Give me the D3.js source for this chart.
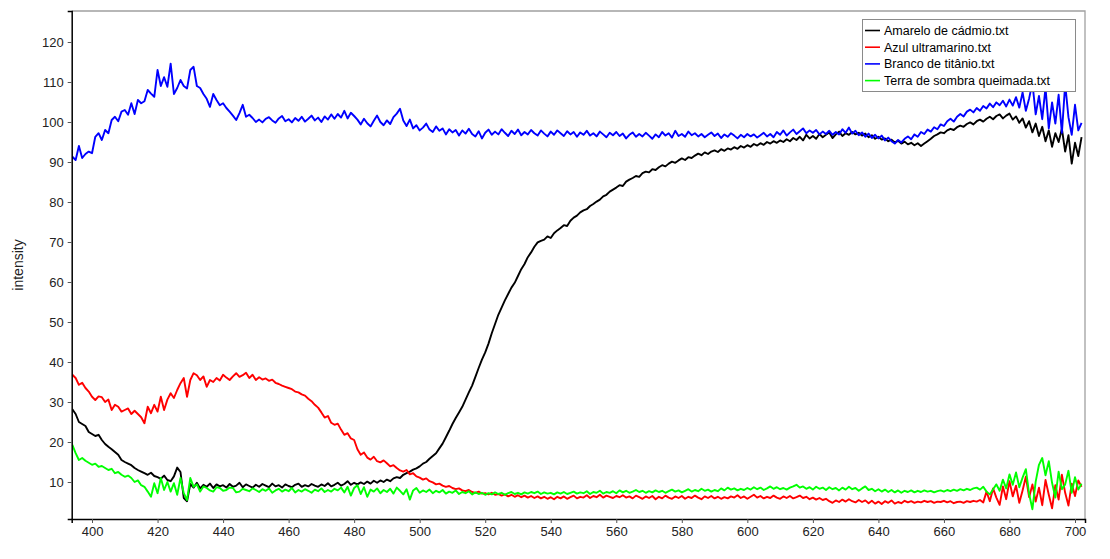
<!DOCTYPE html>
<html>
<head>
<meta charset="utf-8">
<script src="https://cdn.jsdelivr.net/npm/d3@7"></script>
<style>
  html, body { margin: 0; padding: 0; background: #fff; }
  svg { display: block; font-family: "Liberation Sans", Arial, sans-serif; }
</style>
</head>
<body>
<svg id="chart" width="1110" height="559"></svg>
<script>
// Spectra sampled every 1 nm starting at 394 nm
const wavelengthStart = 394;
const wavelengthStep = 1;

const seriesNames = ["Amarelo de cádmio.txt", "Azul ultramarino.txt", "Branco de titânio.txt", "Terra de sombra queimada.txt"];
const seriesColors = ["#000000", "#ff0000", "#0000ff", "#00ff00"];

const xTicks = [400, 420, 440, 460, 480, 500, 520, 540, 560, 580, 600, 620, 640, 660, 680, 700];
const yTicks = [10, 20, 30, 40, 50, 60, 70, 80, 90, 100, 110, 120];

const amarelo = [
  28.2, 27.0, 25.0, 24.5, 24.0, 22.5, 22.0, 21.5, 21.8, 20.5,
  19.5, 18.8, 18.2, 17.5, 16.8, 15.5, 15.0, 14.6, 14.2, 13.5,
  13.0, 12.6, 12.2, 11.8, 12.3, 11.5, 11.2, 10.8, 11.6, 10.5,
  10.2, 11.4, 13.6, 12.5, 6.0, 5.2, 9.5, 8.6, 9.8, 8.4,
  9.3, 8.8, 9.6, 8.5, 9.4, 8.9, 9.2, 8.6, 9.5, 8.8,
  9.1, 9.8, 8.7, 9.4, 9.0, 8.6, 9.3, 8.8, 9.5, 9.1,
  8.7, 9.6, 8.9, 9.2, 8.6, 9.4, 9.0, 8.7, 9.3, 9.6,
  8.8, 9.2, 8.9, 9.5, 9.1, 8.8, 9.4, 9.0, 9.7, 8.9,
  9.3, 9.8, 9.1, 9.5, 10.2, 9.3, 9.8, 9.4, 9.9, 9.5,
  10.1, 9.6, 10.3, 9.8, 10.4, 10.0, 10.6, 10.2, 10.9, 11.2,
  11.0, 11.8, 12.2, 12.6, 13.1, 13.4, 13.9, 14.6, 15.0, 15.8,
  16.5, 17.2, 18.4, 19.6, 21.2, 22.8, 24.5, 26.0, 27.4, 28.8,
  30.6, 32.4, 34.1, 36.3, 38.5, 40.6, 42.4, 44.6, 47.2, 49.5,
  51.8, 53.6, 55.4, 57.0, 58.6, 59.8, 61.5, 63.2, 64.5, 66.2,
  67.4, 68.8, 69.9, 70.3, 70.6, 71.4, 71.0, 72.2, 72.9, 73.5,
  74.2, 74.0, 75.3, 76.1, 76.6, 77.4, 77.9, 78.2, 79.0, 79.5,
  80.1, 80.6, 81.4, 81.8, 82.6, 83.1, 83.6, 84.2, 84.0, 85.1,
  85.6, 86.0, 86.5, 86.3, 87.2, 87.6, 87.4, 88.2, 88.0, 88.7,
  89.2, 88.9, 89.6, 90.1, 89.8, 90.4, 90.9, 90.5, 91.2, 91.0,
  91.6, 92.1, 91.7, 92.4, 92.0, 92.6, 92.9, 92.5, 93.2, 92.8,
  93.4, 93.1, 93.7, 93.3, 94.0, 93.6, 94.2, 93.8, 94.5, 94.1,
  94.7, 94.3, 95.0, 94.6, 95.2, 94.8, 95.4, 95.0, 95.7, 95.2,
  96.0, 95.5, 96.3, 95.4, 96.8, 95.9, 96.5, 95.8, 97.0, 96.2,
  96.8, 97.4, 96.0, 96.9, 97.6, 96.5, 97.2, 96.8, 97.5, 96.9,
  97.3, 96.6, 97.1, 96.2, 96.7, 95.8, 96.3, 95.6, 95.9, 95.2,
  95.6, 94.9, 95.3, 94.6, 95.1, 94.4, 94.8, 94.2, 94.7, 94.0,
  94.6, 95.2, 95.8, 96.5, 96.9, 97.4, 97.2, 97.9, 98.3, 98.0,
  98.7, 99.1, 98.8, 99.5, 99.9, 99.4, 100.2, 100.6, 100.1, 100.8,
  101.3, 100.7, 101.5, 101.9, 100.9, 101.6, 102.1, 100.6, 101.4, 99.8,
  100.9, 98.6, 100.2, 97.4, 99.6, 96.5, 98.8, 95.2, 97.9, 93.8,
  97.2, 95.0, 98.3, 92.6, 96.7, 89.6, 94.8, 91.5, 96.2
];

const azul = [
  36.8, 36.0, 34.3, 34.8, 33.5, 32.6, 31.3, 30.5, 31.4, 31.2,
  30.0, 30.6, 28.0, 29.3, 28.8, 27.6, 28.0, 28.4, 27.0, 27.8,
  27.0, 26.2, 24.7, 28.8, 27.2, 29.3, 27.6, 31.3, 28.0, 30.6,
  32.2, 31.0, 33.0, 34.7, 36.0, 31.3, 35.5, 37.2, 36.7, 35.5,
  36.4, 33.8, 35.5, 35.0, 36.0, 35.4, 36.8, 36.1, 35.5, 36.4,
  37.2, 36.3, 36.7, 37.3, 36.0, 36.8, 35.5, 36.2, 35.6, 35.9,
  35.3, 35.6, 34.8, 34.5, 34.1, 33.8, 33.5, 33.2, 32.6, 32.4,
  31.9, 31.6, 30.8, 30.2, 29.3, 28.6, 27.4, 26.1, 26.5, 24.8,
  24.3, 24.6, 23.1, 21.8, 22.2, 20.9, 20.5, 18.2, 16.8, 17.4,
  16.1, 15.6, 16.3, 15.2, 14.9, 15.4, 14.7, 13.9, 14.2, 13.5,
  12.9, 12.6, 13.0, 11.9, 12.2, 11.4, 11.1, 10.6, 10.9, 10.2,
  9.9, 9.4, 9.6, 9.1, 8.8, 9.0, 8.5, 8.2, 8.4, 7.9,
  7.7, 8.0, 7.5, 7.3, 7.6, 7.1, 7.2, 6.9, 7.3, 6.8,
  7.0, 6.6, 6.9, 6.4, 6.8, 6.3, 6.7, 6.2, 6.6, 6.1,
  6.5, 6.0, 6.4, 5.9, 6.3, 5.8, 6.2, 5.7, 6.3, 5.9,
  6.4, 5.8, 6.2, 6.6, 5.9, 6.3, 6.1, 6.7, 6.0, 6.5,
  6.2, 6.8, 6.1, 6.6, 6.3, 6.0, 6.5, 6.2, 6.7, 6.1,
  6.4, 5.9, 6.6, 6.2, 5.8, 6.4, 6.0, 6.5, 5.7, 6.3,
  5.9, 6.6, 6.1, 5.8, 6.4, 6.0, 6.5, 5.8, 6.3, 6.0,
  6.6, 6.1, 5.7, 6.4, 6.0, 6.5, 5.9, 6.3, 5.8, 6.2,
  5.9, 6.4, 6.1, 6.7, 6.0, 6.4, 5.8, 6.3, 6.8, 6.1,
  6.5, 5.9, 6.3, 6.0, 6.6, 6.1, 5.8, 6.4, 6.0, 6.5,
  5.9, 6.2, 6.6, 6.0, 6.3, 5.7, 6.1, 5.6, 6.0, 5.5,
  5.8, 5.2, 4.8, 5.4, 5.0, 5.6, 5.1, 5.7, 5.2, 4.9,
  5.5, 5.0, 5.4, 4.7, 5.3, 4.6, 5.1, 4.5, 5.2, 4.8,
  5.4, 4.6, 5.0, 4.7, 5.3, 4.9, 5.2, 4.8, 5.1, 4.9,
  5.3, 5.0, 5.2, 4.8, 5.1, 5.0, 5.3, 4.9, 5.2, 4.7,
  5.0, 5.1, 4.8, 5.2, 5.0, 5.3, 5.1, 5.5, 4.9, 7.6,
  5.2, 8.4, 6.1, 4.3, 8.9, 5.7, 10.2, 6.4, 9.1, 4.8,
  7.9, 11.3, 6.2, 9.4, 5.1, 8.6, 4.2, 10.5, 6.8, 3.4,
  9.2, 5.6, 11.8, 7.3, 4.1, 9.6, 6.5, 10.4, 8.8
];

const branco = [
  91.3, 90.5, 94.0, 91.0, 92.0, 92.6, 92.2, 96.3, 97.2, 95.5,
  98.0, 97.2, 100.5, 101.3, 100.2, 102.6, 103.0, 101.8, 104.7, 102.0,
  105.5, 104.7, 105.2, 108.0, 107.1, 106.3, 113.0, 109.0, 111.2, 108.8,
  114.6, 107.0, 108.5, 110.5, 109.0, 108.4, 113.0, 113.8, 109.0, 108.5,
  107.0, 105.8, 103.8, 107.0, 105.5, 104.2, 104.7, 103.5, 102.6, 101.6,
  100.5, 102.2, 104.3, 101.3, 101.8, 101.0, 100.0, 100.6, 99.9, 100.8,
  101.2, 100.4, 99.8, 100.9, 101.5, 100.2, 100.7, 99.9, 101.0, 100.3,
  101.3, 100.1, 100.8, 101.6, 100.4, 101.1, 100.0, 101.4, 100.6, 101.9,
  100.8, 102.0, 101.1, 102.8, 100.9, 102.3, 101.5, 100.6, 99.4, 100.8,
  99.7, 98.9, 100.3, 101.6, 100.0, 99.2, 100.4, 99.5, 101.2, 102.1,
  103.3, 100.4, 99.0, 100.6, 98.4, 99.2, 97.9, 98.6, 99.6, 98.1,
  97.5, 98.9, 97.8, 98.4, 96.9, 98.2, 97.4, 98.0, 96.6, 97.9,
  97.1, 98.3, 97.0, 96.4, 97.7, 95.9, 97.3, 98.1, 96.8, 97.6,
  96.9, 98.2, 97.3, 96.5, 97.8, 97.0, 98.1, 96.7, 97.5, 96.9,
  98.0, 97.2, 96.6, 97.9, 97.1, 96.4, 97.6, 96.8, 97.9, 97.2,
  96.5, 97.7, 96.9, 97.5, 96.3, 97.4, 96.8, 97.8, 96.6, 97.2,
  96.4, 97.6, 96.9, 96.2, 97.3, 96.7, 97.5, 96.5, 97.1, 95.9,
  96.8, 97.4, 96.3, 97.0, 96.4, 97.3, 96.6, 95.8, 96.9, 96.2,
  97.5, 96.6, 97.2, 96.1, 97.8, 96.5, 97.0, 96.3, 97.6, 96.7,
  97.2, 96.4, 97.0, 96.2, 96.8, 97.4, 96.5, 97.1, 96.0, 96.9,
  96.3, 97.2, 96.6, 95.9, 96.8, 96.2, 97.0, 96.4, 96.9, 96.1,
  96.7, 97.3, 96.4, 97.0, 96.2, 97.5, 96.8, 97.9, 96.6, 97.4,
  98.1, 97.0, 97.7, 98.4, 97.2, 97.9, 97.3, 98.0, 96.9, 97.6,
  97.0, 97.8, 96.8, 97.5, 96.9, 98.2, 97.3, 98.6, 97.1, 97.8,
  96.7, 97.4, 96.3, 97.1, 96.0, 96.8, 95.9, 96.6, 95.4, 96.1,
  95.2, 94.6, 95.5, 94.9, 95.8, 96.4, 95.7, 96.9, 96.3, 97.5,
  97.0, 98.1, 97.6, 98.7, 98.2, 99.4, 99.0, 100.2, 100.8, 100.1,
  101.3, 102.0, 101.4, 102.6, 103.1, 102.4, 103.5, 102.8, 104.0, 103.4,
  104.6, 103.7, 104.9, 104.2, 105.3, 103.9, 105.6, 104.1, 106.2, 103.6,
  107.4, 102.8, 105.9, 109.8, 101.9, 106.5, 100.7, 108.6, 98.4, 104.9,
  99.6, 106.8, 97.3, 109.5, 101.2, 96.8, 104.3, 97.9, 99.8
];

const terra = [
  19.3, 17.2, 15.5, 16.0, 15.3, 14.8, 14.3, 14.6, 13.8, 14.0,
  13.5, 13.0, 13.3, 12.2, 12.5, 11.8, 11.3, 11.6, 11.0, 10.0,
  10.4, 9.2, 8.8, 7.6, 6.3, 9.7, 7.2, 11.0, 8.0, 10.0,
  7.6, 9.7, 6.8, 11.0, 7.2, 5.5, 11.0, 8.8, 9.4, 7.6,
  8.9, 8.5, 7.9, 7.6, 8.7, 8.5, 7.8, 8.0, 8.6, 8.5,
  7.4, 7.6, 8.3, 8.0, 7.7, 8.4, 8.0, 7.5, 8.2, 7.8,
  8.4, 7.3, 7.9, 8.3, 7.6, 8.1, 7.7, 8.5, 7.4, 8.0,
  7.6, 8.2, 7.8, 7.3, 8.1, 7.7, 8.4, 7.5, 8.0, 7.6,
  8.3, 7.9, 8.6, 7.4, 8.8, 6.6, 8.5, 9.2, 7.0, 8.7,
  6.3, 8.1, 7.6, 8.4, 7.2, 8.0, 7.5, 8.3, 7.1, 8.6,
  7.8, 6.9, 8.2, 5.6, 7.9, 8.5, 7.3, 7.9, 7.5, 8.1,
  7.2, 7.8, 7.4, 8.0, 7.1, 7.6, 7.3, 7.9, 7.0, 7.5,
  7.2, 7.7, 6.9, 7.4, 7.0, 7.3, 6.8, 7.2, 6.9, 7.4,
  7.0, 7.3, 6.8, 7.2, 7.5, 7.0, 7.3, 6.9, 7.4, 7.1,
  7.5, 7.2, 7.6, 7.0, 7.4, 7.1, 7.3, 6.9, 7.4, 7.1,
  7.5, 7.0, 7.3, 7.6, 7.1, 7.4, 7.2, 7.7, 7.0, 7.5,
  7.3, 7.8, 7.1, 7.5, 7.3, 7.7, 7.2, 7.9, 7.4, 7.8,
  7.3, 7.6, 8.0, 7.5, 7.8, 7.3, 7.7, 7.4, 7.9, 7.5,
  7.8, 7.3, 7.7, 8.1, 7.6, 7.9, 7.4, 7.8, 8.2, 7.6,
  8.0, 7.7, 8.3, 7.8, 8.1, 7.6, 8.0, 7.7, 8.4, 7.9,
  8.6, 8.1, 8.4, 7.9, 8.3, 8.0, 8.5, 8.1, 8.7, 8.2,
  8.6, 8.0, 8.4, 8.9, 8.3, 8.7, 8.2, 8.5, 8.1, 8.6,
  8.9, 9.3, 8.6, 8.9, 8.3, 8.7, 8.1, 8.8, 8.3, 8.6,
  8.0, 8.7, 8.2, 8.5, 7.9, 8.6, 8.1, 8.8, 8.2, 8.5,
  7.8, 8.4, 8.9, 8.0, 8.3, 7.7, 8.2, 7.6, 8.1, 7.5,
  8.0, 7.4, 7.9, 7.3, 7.8, 7.5, 7.9, 7.4, 7.8, 7.5,
  7.9, 7.6, 7.8, 7.4, 7.7, 7.9, 7.6, 8.0, 7.7, 8.1,
  7.8, 8.2, 7.9, 8.3, 8.0, 8.4, 8.6, 8.1, 8.8, 7.6,
  6.9, 8.2, 9.4, 7.8, 10.6, 8.4, 11.9, 9.3, 12.4, 8.7,
  11.1, 13.2, 7.0, 3.2, 10.1, 14.3, 16.0, 11.7, 15.2, 9.8,
  6.1, 12.6, 8.2, 9.4, 12.8, 7.3, 11.2, 8.1, 9.6
];

const seriesValues = [amarelo, azul, branco, terra];

// Plot frame
const plot = { left: 71.7, right: 1085, top: 11, bottom: 519 };

const x = d3.scaleLinear().domain([393.8, 703.05]).range([plot.left, plot.right]);
const y = d3.scaleLinear().domain([0.75, 127.75]).range([plot.bottom, plot.top]);

const svg = d3.select("#chart");

svg.append("defs").append("clipPath").attr("id", "plot-clip")
  .append("rect")
  .attr("x", plot.left).attr("y", plot.top)
  .attr("width", plot.right - plot.left).attr("height", plot.bottom - plot.top);

// Light frame on the top and right edges
svg.append("path")
  .attr("d", `M${plot.left},${plot.top}H${plot.right}V${plot.bottom}`)
  .attr("fill", "none")
  .attr("stroke", "#a0a0a0")
  .attr("stroke-width", 1.3);

// Series lines
const line = d3.line()
  .x((d, i) => x(wavelengthStart + i * wavelengthStep))
  .y(d => y(d));

const lines = svg.append("g").attr("clip-path", "url(#plot-clip)");
seriesValues.forEach((vals, k) => {
  lines.append("path")
    .datum(vals)
    .attr("fill", "none")
    .attr("stroke", seriesColors[k])
    .attr("stroke-width", 1.9)
    .attr("stroke-linejoin", "round")
    .attr("d", line);
});

// Minor ticks
const xMinor = d3.range(395, 705, 5).filter(v => v % 20 !== 0);
const yMinor = d3.range(5, 128, 5).filter(v => v % 10 !== 0);

const xAxis = svg.append("g").attr("transform", `translate(0,${plot.bottom})`);
xAxis.call(d3.axisBottom(x).tickValues(xMinor).tickSize(3).tickFormat(""));
xAxis.call(d3.axisBottom(x).tickValues(xTicks).tickSize(4).tickPadding(4).tickFormat(d3.format("d")));

const yAxis = svg.append("g").attr("transform", `translate(${plot.left},0)`);
yAxis.call(d3.axisLeft(y).tickValues(yMinor).tickSize(3).tickFormat(""));
yAxis.call(d3.axisLeft(y).tickValues(yTicks).tickSize(4).tickPadding(4).tickFormat(d3.format("d")));

[xAxis, yAxis].forEach(g => {
  g.selectAll(".domain").attr("stroke", "#000").attr("stroke-width", 1.5);
  g.selectAll(".tick line").attr("stroke", "#555");
  g.selectAll("text")
    .attr("fill", "#222")
    .style("font-family", "'Liberation Sans', Arial, sans-serif")
    .style("font-size", "13px");
});

// Axis title
svg.append("text")
  .attr("transform", `translate(23,265) rotate(-90)`)
  .attr("text-anchor", "middle")
  .attr("fill", "#222")
  .style("font-size", "14px")
  .text("intensity");

// Legend
const legend = svg.append("g");
legend.append("rect")
  .attr("x", 862.5).attr("y", 19.5)
  .attr("width", 213).attr("height", 72)
  .attr("fill", "#fff")
  .attr("stroke", "#8a8a8a")
  .attr("stroke-width", 1);

seriesNames.forEach((name, k) => {
  const cy = 30.5 + k * 16.7;
  legend.append("line")
    .attr("x1", 865).attr("x2", 880)
    .attr("y1", cy).attr("y2", cy)
    .attr("stroke", seriesColors[k])
    .attr("stroke-width", 1.6);
  legend.append("text")
    .attr("x", 884).attr("y", cy + 4.3)
    .attr("fill", "#000")
    .style("font-size", "12.5px")
    .text(name);
});
</script>
</body>
</html>
